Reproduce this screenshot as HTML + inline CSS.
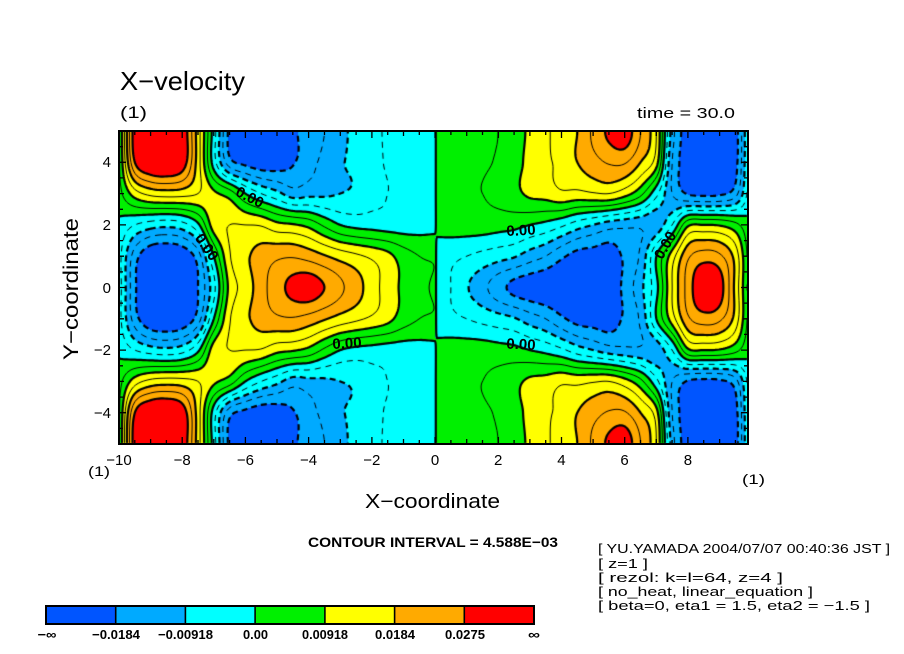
<!DOCTYPE html>
<html><head><meta charset="utf-8">
<style>
html,body{margin:0;padding:0;background:#fff;}
#wrap{position:relative;width:904px;height:654px;overflow:hidden;background:#fff;}
#cv{position:absolute;left:0;top:0;}
#ov{position:absolute;left:0;top:0;}
text{font-family:"Liberation Sans",sans-serif;fill:#000;}
</style></head><body>
<div id="wrap">
<canvas id="cv" width="904" height="654"></canvas>
<svg id="ov" width="904" height="654" viewBox="0 0 904 654" xmlns="http://www.w3.org/2000/svg">
  <rect x="119" y="131" width="629" height="313" fill="none" stroke="#000" stroke-width="2"/>
  <path id="ticks" d="" stroke="#000" stroke-width="1.3" fill="none"/>

  <!-- contour labels -->
  <text x="250" y="197" font-size="15" font-weight="bold" text-anchor="middle" dy="0.35em" transform="rotate(27 250 197)">0.00</text>
  <text x="207" y="247" font-size="15" font-weight="bold" text-anchor="middle" dy="0.35em" transform="rotate(55 207 247)">0.00</text>
  <text x="347" y="343" font-size="15" font-weight="bold" text-anchor="middle" dy="0.35em" transform="rotate(-3 347 343)">0.00</text>
  <text x="521" y="230" font-size="15" font-weight="bold" text-anchor="middle" dy="0.35em" transform="rotate(-3 521 230)">0.00</text>
  <text x="521" y="344" font-size="15" font-weight="bold" text-anchor="middle" dy="0.35em" transform="rotate(3 521 344)">0.00</text>
  <text x="665" y="245" font-size="15" font-weight="bold" text-anchor="middle" dy="0.35em" transform="rotate(-60 665 245)">0.00</text>

  <!-- titles -->
  <text x="120" y="90" font-size="26" textLength="125" lengthAdjust="spacingAndGlyphs">X−velocity</text>
  <text x="120" y="118" font-size="17" textLength="27" lengthAdjust="spacingAndGlyphs">(1)</text>
  <text x="637" y="118" font-size="15" textLength="98" lengthAdjust="spacingAndGlyphs">time = 30.0</text>

  <!-- y tick labels -->
  <text x="111" y="167" font-size="15" text-anchor="end">4</text>
  <text x="111" y="230" font-size="15" text-anchor="end">2</text>
  <text x="111" y="293" font-size="15" text-anchor="end">0</text>
  <text x="111" y="355" font-size="15" text-anchor="end">−2</text>
  <text x="111" y="418" font-size="15" text-anchor="end">−4</text>

  <!-- x tick labels -->
  <text x="119" y="465" font-size="15" text-anchor="middle">−10</text>
  <text x="182.2" y="465" font-size="15" text-anchor="middle">−8</text>
  <text x="245.4" y="465" font-size="15" text-anchor="middle">−6</text>
  <text x="308.6" y="465" font-size="15" text-anchor="middle">−4</text>
  <text x="371.8" y="465" font-size="15" text-anchor="middle">−2</text>
  <text x="435" y="465" font-size="15" text-anchor="middle">0</text>
  <text x="498.2" y="465" font-size="15" text-anchor="middle">2</text>
  <text x="561.4" y="465" font-size="15" text-anchor="middle">4</text>
  <text x="624.6" y="465" font-size="15" text-anchor="middle">6</text>
  <text x="687.9" y="465" font-size="15" text-anchor="middle">8</text>

  <text x="88" y="476" font-size="14" textLength="22" lengthAdjust="spacingAndGlyphs">(1)</text>
  <text x="742" y="484" font-size="14" textLength="23" lengthAdjust="spacingAndGlyphs">(1)</text>

  <!-- axis titles -->
  <text x="365" y="508" font-size="20" textLength="135" lengthAdjust="spacingAndGlyphs">X−coordinate</text>
  <text transform="translate(78,289) rotate(-90)" font-size="21" text-anchor="middle" textLength="142" lengthAdjust="spacingAndGlyphs">Y−coordinate</text>

  <text x="308" y="547" font-size="14" font-weight="bold" textLength="250" lengthAdjust="spacingAndGlyphs">CONTOUR INTERVAL = 4.588E−03</text>

  <!-- info block -->
  <text x="598" y="553" font-size="13" textLength="292" lengthAdjust="spacingAndGlyphs">[ YU.YAMADA 2004/07/07 00:40:36 JST ]</text>
  <text x="598" y="568" font-size="13" textLength="50" lengthAdjust="spacingAndGlyphs">[ z=1 ]</text>
  <text x="598" y="582" font-size="13" textLength="185" lengthAdjust="spacingAndGlyphs">[ rezol: k=l=64, z=4 ]</text>
  <text x="598" y="596" font-size="13" textLength="215" lengthAdjust="spacingAndGlyphs">[ no_heat, linear_equation ]</text>
  <text x="598" y="610" font-size="13" textLength="272" lengthAdjust="spacingAndGlyphs">[ beta=0, eta1 = 1.5, eta2 = −1.5 ]</text>

  <!-- colorbar -->
  <rect x="46" y="606" width="69.7" height="18" fill="#0055ff"/>
  <rect x="115.7" y="606" width="69.7" height="18" fill="#00aaff"/>
  <rect x="185.4" y="606" width="69.7" height="18" fill="#00ffff"/>
  <rect x="255.1" y="606" width="69.8" height="18" fill="#00f000"/>
  <rect x="324.9" y="606" width="69.7" height="18" fill="#ffff00"/>
  <rect x="394.6" y="606" width="69.7" height="18" fill="#ffaa00"/>
  <rect x="464.3" y="606" width="69.7" height="18" fill="#ff0000"/>
  <rect x="46" y="606" width="488" height="18" fill="none" stroke="#000" stroke-width="2"/>
  <path d="M115.7 606V624M185.4 606V624M255.1 606V624M324.9 606V624M394.6 606V624M464.3 606V624" stroke="#000" stroke-width="1.6"/>
  <text x="47" y="639" font-size="13" font-weight="bold" text-anchor="middle" textLength="19" lengthAdjust="spacingAndGlyphs">−∞</text>
  <text x="116" y="639" font-size="13" font-weight="bold" text-anchor="middle" textLength="48" lengthAdjust="spacingAndGlyphs">−0.0184</text>
  <text x="185.5" y="639" font-size="13" font-weight="bold" text-anchor="middle" textLength="55" lengthAdjust="spacingAndGlyphs">−0.00918</text>
  <text x="255.5" y="639" font-size="13" font-weight="bold" text-anchor="middle" textLength="25" lengthAdjust="spacingAndGlyphs">0.00</text>
  <text x="325" y="639" font-size="13" font-weight="bold" text-anchor="middle" textLength="46" lengthAdjust="spacingAndGlyphs">0.00918</text>
  <text x="395" y="639" font-size="13" font-weight="bold" text-anchor="middle" textLength="40" lengthAdjust="spacingAndGlyphs">0.0184</text>
  <text x="465" y="639" font-size="13" font-weight="bold" text-anchor="middle" textLength="40" lengthAdjust="spacingAndGlyphs">0.0275</text>
  <text x="534" y="639" font-size="13" font-weight="bold" text-anchor="middle" textLength="12" lengthAdjust="spacingAndGlyphs">∞</text>
</svg>
</div>
<script>
(function(){
var LG=[
[-0.5,-3.8,-5.3,-5.6,-5.1,-4.0,-1.3,2.3,3.4,4.6,5.6,6.3,6.6,6.0,5.2,4.4,3.5,2.5,1.8,1.2,0.9],
[-0.6,-3.5,-4.9,-5.1,-4.8,-3.5,0.0,2.9,3.8,4.4,4.8,4.9,4.6,4.1,3.6,3.2,2.8,2.3,1.5,1.0,0.9],
[-0.2,-1.0,-1.5,-1.7,-1.4,-0.2,2.5,3.0,3.0,2.9,2.3,2.1,1.7,0.8,0.0,-0.3,-0.4,-0.5,-0.5,-0.4,-0.3],
[0.6,2.5,3.3,3.5,3.4,3.0,2.2,1.5,0.0,-1.0,-1.7,-2.5,-2.3,-2.2,-2.0,-1.8,-1.3,-1.0,-0.7,-0.5,-0.4],
[0.8,6.0,7.3,7.5,6.7,3.5,-0.5,-3.6,-4.3,-4.7,-4.6,-4.1,-3.4,-2.7,-2.1,-1.8,-1.3,-0.9,-0.6,-0.5,-0.4],
[0.8,6.6,7.7,8.0,6.9,3.5,-0.5,-4.3,-5.0,-5.3,-5.1,-4.2,-3.6,-3.0,-2.3,-1.7,-1.2,-0.9,-0.6,-0.5,-0.4]];
var RG=[
[-0.8,-1.0,-1.9,-2.7,-3.6,-4.3,-4.6,-4.8,-5.0,-5.0,-5.0,-4.8,-3.7,-2.3,-0.3,3.0,5.4,7.0,6.5,3.7,0],
[-0.7,-0.8,-1.0,-1.3,-1.6,-1.9,-2.5,-3.0,-3.8,-4.4,-4.5,-4.6,-3.8,-2.8,0.0,2.5,4.8,5.5,5.2,3.6,0],
[0.4,0.5,0.5,0.5,0.4,0.3,0.0,-0.3,-0.8,-1.5,-2.0,-2.5,-2.7,-2.8,-2.6,-1.0,1.8,2.0,1.9,1.3,0],
[0.6,0.8,0.9,1.0,1.3,1.7,2.2,2.4,2.8,2.7,2.9,3.0,2.4,1.3,-0.7,-3.0,-4.1,-4.3,-4.2,-3.4,0],
[0.6,0.7,0.8,0.9,1.1,1.6,2.3,2.8,3.3,4.0,4.6,5.1,5.1,4.0,2.4,-3.0,-4.5,-5.0,-5.0,-4.4,0],
[0.6,0.7,0.8,0.9,1.0,1.5,2.2,2.8,3.5,4.0,5.2,6.2,6.6,5.0,3.0,-2.5,-4.6,-5.0,-5.0,-4.5,0]];
function cr(p0,p1,p2,p3,t){return p1+0.5*t*(p2-p0+t*(2*p0-5*p1+4*p2-p3+t*(3*(p1-p2)+p3-p0)));}
function g(G,j,i){if(j<0)j=-j;if(j>5)j=10-j;var r=G[j];if(i<0)return 2*r[0]-r[1];if(i>20)return 2*r[20]-r[19];return r[i];}
function F(x,y){
  var G=x<0?LG:RG;var fx=x<0?(x+10)*2:x*2;if(fx<0)fx=0;if(fx>20)fx=20;
  var i=Math.floor(fx);if(i>19)i=19;var tx=fx-i;
  var ay=Math.abs(y);if(ay>5)ay=5;var j=Math.floor(ay);if(j>4)j=4;var ty=ay-j;
  var c=[];
  for(var jj=-1;jj<=2;jj++){c.push(cr(g(G,j+jj,i-1),g(G,j+jj,i),g(G,j+jj,i+1),g(G,j+jj,i+2),tx));}
  return cr(c[0],c[1],c[2],c[3],ty);
}
var X0=119,Y0=131,W=629,H=313,XR=19.9;
var cv=document.getElementById('cv');var ctx=cv.getContext('2d');
ctx.fillStyle='#fff';ctx.fillRect(0,0,904,654);
var im=ctx.createImageData(W,H);var d=im.data;
var C=[[0,85,255],[0,170,255],[0,255,255],[0,240,0],[255,255,0],[255,170,0],[255,0,0]];
for(var py=0;py<H;py++){var y=5-(py+0.5)/H*10;for(var px=0;px<W;px++){var x=-10+(px+0.5)/W*XR;var v=F(x,y);
  var k=v<-4?0:v<-2?1:v<0?2:v<2?3:v<4?4:v<6?5:6;var o=(py*W+px)*4;d[o]=C[k][0];d[o+1]=C[k][1];d[o+2]=C[k][2];d[o+3]=255;}}
ctx.putImageData(im,X0,Y0);

var s=2;var nx=Math.floor(W/s)+1,ny=Math.floor(H/s)+1;
var V=new Float64Array(nx*ny);
for(var j=0;j<ny;j++){var yy=5-Math.min(j*s,H)/H*10;for(var i=0;i<nx;i++){var xx=-10+Math.min(i*s,W)/W*XR;V[j*nx+i]=F(xx,yy);}}

function level(lv){
  var pts=new Map(),adj=new Map();
  function hid(i,j){return (j*nx+i)*2;}
  function vid(i,j){return (j*nx+i)*2+1;}
  function add(a,b){var A=adj.get(a);if(!A){A=[];adj.set(a,A);}A.push(b);var B=adj.get(b);if(!B){B=[];adj.set(b,B);}B.push(a);}
  for(var j=0;j<ny-1;j++)for(var i=0;i<nx-1;i++){
    var va=V[j*nx+i],vb=V[j*nx+i+1],vc=V[(j+1)*nx+i+1],vd=V[(j+1)*nx+i];
    var A=va>lv,B=vb>lv,Cc=vc>lv,D=vd>lv;
    if(A===B&&B===Cc&&Cc===D)continue;
    var T=-1,R=-1,Bo=-1,Le=-1,t;
    if(A!==B){T=hid(i,j);if(!pts.has(T)){t=(lv-va)/(vb-va);pts.set(T,[(i+t)*s,j*s]);}}
    if(B!==Cc){R=vid(i+1,j);if(!pts.has(R)){t=(lv-vb)/(vc-vb);pts.set(R,[(i+1)*s,(j+t)*s]);}}
    if(D!==Cc){Bo=hid(i,j+1);if(!pts.has(Bo)){t=(lv-vd)/(vc-vd);pts.set(Bo,[(i+t)*s,(j+1)*s]);}}
    if(A!==D){Le=vid(i,j);if(!pts.has(Le)){t=(lv-va)/(vd-va);pts.set(Le,[i*s,(j+t)*s]);}}
    var e=[T,R,Bo,Le].filter(function(z){return z>=0;});
    if(e.length===2)add(e[0],e[1]);
    else if(e.length===4){var cen=(va+vb+vc+vd)/4>lv;if(A===cen){add(T,R);add(Bo,Le);}else{add(T,Le);add(R,Bo);}}
  }
  var used=new Set();var paths=[];
  function walk(st){var p=[st];used.add(st);var cur=st;
    for(;;){var nb=adj.get(cur);var nxt=-1;for(var q=0;q<nb.length;q++){if(!used.has(nb[q])){nxt=nb[q];break;}}
      if(nxt<0){if(p.length>2&&nb.indexOf(st)>=0)p.push(st);break;}
      used.add(nxt);p.push(nxt);cur=nxt;}
    return p;}
  adj.forEach(function(nb,id){if(nb.length===1&&!used.has(id))paths.push(walk(id));});
  adj.forEach(function(nb,id){if(!used.has(id))paths.push(walk(id));});
  return paths.map(function(p){return p.map(function(id){return pts.get(id);});});
}
ctx.save();ctx.beginPath();ctx.rect(X0,Y0,W,H);ctx.clip();
ctx.strokeStyle='#000';ctx.lineJoin='round';ctx.lineCap='butt';
for(var lv=-4;lv<=6;lv++){
  var ps=level(lv+1e-7);
  var even=(lv%2===0);
  ctx.lineWidth=even?2.2:1;
  ctx.setLineDash(lv<0?(even?[6,4]:[6,5]):[]);
  for(var a=0;a<ps.length;a++){var p=ps[a];if(p.length<2)continue;
    ctx.beginPath();ctx.moveTo(X0+p[0][0],Y0+p[0][1]);
    for(var b=1;b<p.length;b++)ctx.lineTo(X0+p[b][0],Y0+p[b][1]);
    ctx.stroke();}
}
ctx.restore();

/* ticks */
var dd='';var sx=629/19.9,sy=31.3;
for(var k=0;k<=39;k++){var xv=-10+0.5*k;var X=119+(xv+10)*sx;
  var len=(Math.abs(xv%2)<1e-9)?7:(Math.abs(xv%1)<1e-9?5:4);
  dd+='M'+X.toFixed(1)+' 444v-'+len+'M'+X.toFixed(1)+' 131v'+len;}
for(var k2=0;k2<=20;k2++){var yv=-5+0.5*k2;var Y=287.5-yv*sy;
  var len2=(Math.abs(yv%2)<1e-9)?7:(Math.abs(yv%1)<1e-9?5:4);
  dd+='M119 '+Y.toFixed(1)+'h'+len2+'M748 '+Y.toFixed(1)+'h-'+len2;}
document.getElementById('ticks').setAttribute('d',dd);
})();
</script>
</body></html>
